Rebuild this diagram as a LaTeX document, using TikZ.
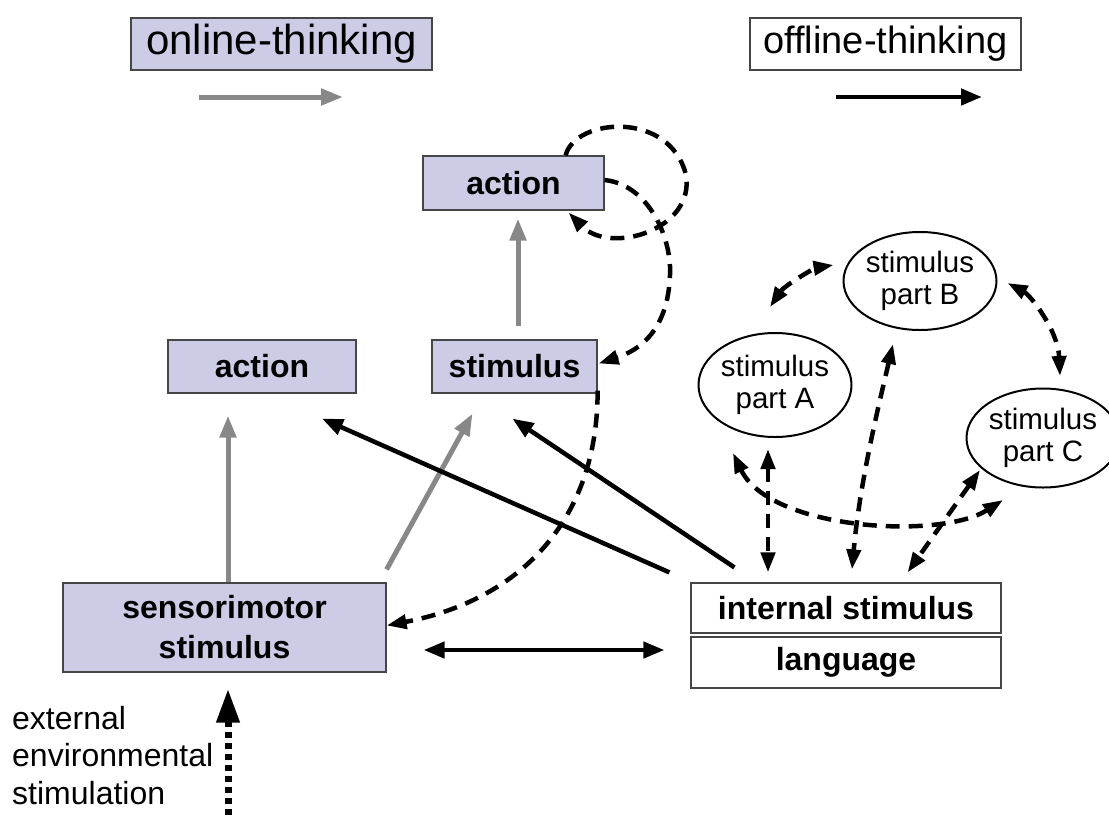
\documentclass[tikz,border=0pt]{standalone}
\usepackage{fontspec}
\setmainfont{Liberation Sans}
\usetikzlibrary{arrows.meta,shapes.geometric,calc}
\definecolor{lav}{RGB}{204,204,230}
\definecolor{edge}{RGB}{70,70,70}
\definecolor{online}{RGB}{136,136,136}

\begin{document}
\begin{tikzpicture}[x=1pt,y=-1pt,
  >={Triangle[length=20pt,width=14pt]},
  legend/.style={draw=edge, line width=1.2pt, inner sep=0pt},
  pbox/.style={draw=edge, line width=1.2pt, fill=lav, inner sep=0pt, align=center,
               font=\fontsize{32}{40}\selectfont\bfseries},
  wbox/.style={pbox, fill=white},
  part/.style={ellipse, draw=black, line width=2pt, inner sep=0pt, align=center,
               font=\fontsize{29.5}{32}\selectfont},
  onl/.style={draw=online, line width=5pt, ->, >={Triangle[length=22pt,width=16pt]}},
  offl/.style={draw=black, line width=4.5pt, ->, >={Triangle[length=21pt,width=16pt]}},
  dsh/.style={draw=black, line width=4.5pt, dash pattern=on 14pt off 9pt},
]
\useasboundingbox (0,0) rectangle (1109,815);

% legend
\node[legend, fill=lav, minimum width=301pt, minimum height=52pt, font=\fontsize{42}{48}\selectfont]
  (on) at (281.5,44) {online-thinking};
\node[legend, fill=white, minimum width=271pt, minimum height=52pt, font=\fontsize{38}{44}\selectfont]
  (off) at (885.5,44) {offline-thinking};
\coordinate (g1) at (199,97);
\coordinate (g2) at (343,97);
\coordinate (b1) at (836,97);
\coordinate (b2) at (982,97);
\draw[onl] (g1) -- (g2);
\draw[offl] (b1) -- (b2);

% boxes
\node[pbox, minimum width=181pt, minimum height=54pt] (act1) at (513.5,183) {action};
\node[pbox, minimum width=188pt, minimum height=53pt] (act2) at (262,366.5) {action};
\node[pbox, minimum width=165pt, minimum height=53pt] (stim) at (514.5,366.5) {stimulus};
\node[pbox, minimum width=323pt, minimum height=89pt] (sens) at (224.5,627.5) {sensorimotor\\stimulus};
\node[wbox, minimum width=310pt, minimum height=50pt] (int) at (846,608) {internal stimulus};
\node[wbox, minimum width=310pt, minimum height=51pt] (lang) at (846,662.5) {language};

% stimulus parts
\node[part, minimum width=126pt, minimum height=104pt] (pA) at (775,385) {stimulus\\part A};
\node[part, minimum width=126pt, minimum height=98pt] (pB) at (920,281) {stimulus\\part B};
\node[part, minimum width=124pt, minimum height=99pt] (pC) at (1043,438) {stimulus\\part C};

% external stimulation
\node[anchor=north west, inner sep=0pt, align=left, font=\fontsize{32}{37.5}\selectfont] (ext) at (12,706)
  {external\\environmental\\stimulation};
\coordinate (bottom) at (228,815);
\draw[line width=7pt, dash pattern=on 6pt off 5pt, ->, >={Triangle[length=34pt,width=22pt]}]
  (bottom) -- ($(sens.south)+(3.5,16)$);

% online-thinking connectors
\draw[onl] ($(sens.north)+(3.5,0)$) -- ($(act2.south)+(-34,22)$);
\draw[onl] ($(sens.north east)+(0,-13)$) -- ($(stim.south)+(-42,20)$);
\draw[onl] ($(stim.north)+(3.5,-13)$) -- ($(act1.south)+(4.5,8)$);

% offline-thinking connectors
\draw[offl] ($(int.north west)+(-21,-10)$) -- ($(act2.south)+(60,25)$);
\draw[offl] ($(int.north west)+(44,-15)$) -- ($(stim.south)+(-2,25)$);
\draw[offl, <->] ($(sens.east)+(37,22.5)$) -- ($(lang.west)+(-26,-12.5)$);

% dashed loops
\draw[dsh, ->] ($(stim.south east)+(0,-3)$) .. controls (598,520) and (520,600) .. ($(sens.east)+(0,-2)$);
\draw[dsh, ->] ($(act1.north east)+(-39,0)$) .. controls (575,118) and (670,110) .. (686,175)
  .. controls (695,230) and (610,255) .. ($(act1.south east)+(-36,2)$);
\draw[dsh, ->] ($(act1.east)+(0,-3)$) .. controls (650,185) and (672,240) .. (670,275)
  .. controls (668,330) and (640,350) .. ($(stim.east)+(1,-3)$);

% links between the stimulus parts
\draw[dsh, <->] ($(pA.north)+(-5,-25)$) .. controls (785,285) and (815,268) .. ($(pB.west)+(-9,-16)$);
\draw[dsh, <->] ($(pB.east)+(10,2)$) .. controls (1030,295) and (1058,330) .. ($(pC.north)+(17,-11.5)$);
\draw[dsh, <->] ($(pA.center)+(-42,68)$) .. controls (770,530) and (940,540) .. ($(pC.center)+(-40,62)$);

% links to the internal stimulus
\draw[dsh, <->] ($(pA.south)+(-7,11)$) -- ($(int.north)+(-78,-10)$);
\draw[dsh, <->] ($(pB.south)+(-27,13)$) .. controls (880,400) and (860,480) .. ($(int.north)+(6,-13)$);
\draw[dsh, <->] ($(pC.center)+(-63,32)$) -- ($(int.north east)+(-94,-10)$);
\end{tikzpicture}
\end{document}
